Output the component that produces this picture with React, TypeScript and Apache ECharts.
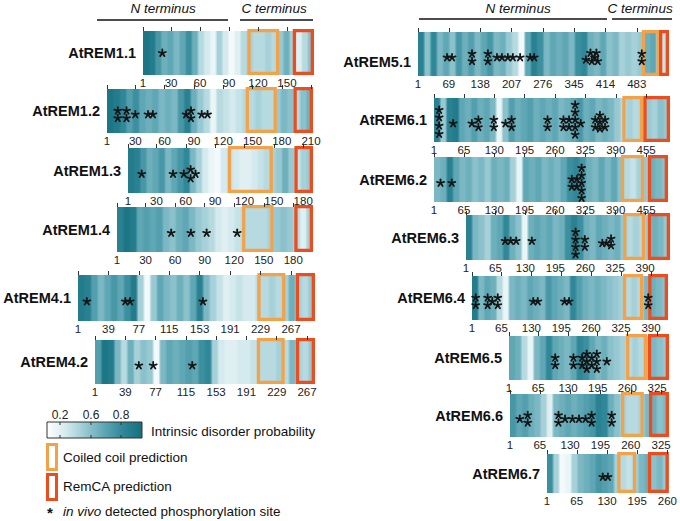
import React, { useEffect, useRef } from 'react';
import * as echarts from 'echarts';

const FONT = '"Liberation Sans", Arial, Helvetica, sans-serif';
const ORANGE = '#f4a24a';
const RED = '#ec4d1e';
const DISORDER_COLORS = ['#ffffff', '#d4eaee', '#98c9d2', '#5fa7b5', '#2f8798', '#15707e'];

const PROTEINS = ['AtREM1.1', 'AtREM1.2', 'AtREM1.3', 'AtREM1.4', 'AtREM4.1', 'AtREM4.2',
  'AtREM5.1', 'AtREM6.1', 'AtREM6.2', 'AtREM6.3', 'AtREM6.4', 'AtREM6.5', 'AtREM6.6', 'AtREM6.7'];
const LENGTHS = [178, 212, 190, 200, 297, 277, 554, 506, 502, 444, 427, 351, 342, 263];

const TICKS_REM1_SHORT = [1, 30, 60, 90, 120, 150];
const TICKS_REM1_2 = [1, 30, 60, 90, 120, 150, 180, 210];
const TICKS_REM1_LONG = [1, 30, 60, 90, 120, 150, 180];
const TICKS_REM4 = [1, 39, 77, 115, 153, 191, 229, 267];
const TICKS_REM5 = [1, 69, 138, 207, 276, 345, 414, 483];
const TICKS_REM6_455 = [1, 65, 130, 195, 260, 325, 390, 455];
const TICKS_REM6_390 = [1, 65, 130, 195, 260, 325, 390];
const TICKS_REM6_325 = [1, 65, 130, 195, 260, 325];
const TICKS_REM6_260 = [1, 65, 130, 195, 260];
const TICKS = [TICKS_REM1_SHORT, TICKS_REM1_2, TICKS_REM1_LONG, TICKS_REM1_LONG, TICKS_REM4, TICKS_REM4,
  TICKS_REM5, TICKS_REM6_455, TICKS_REM6_455, TICKS_REM6_390, TICKS_REM6_390, TICKS_REM6_325, TICKS_REM6_325, TICKS_REM6_260];

// intrinsic disorder probability, equal-length segments along each sequence
const D_REM1_1 = [0.95, 0.9, 0.7, 0.55, 0.6, 0.5, 0.6, 0.75, 0.55, 0.3, 0.2, 0.1, 0.35, 0.2, 0.05, 0.15, 0.3, 0.35, 0.3, 0.3, 0.35, 0.3, 0.4, 0.55, 0.35, 0.15, 0.3, 0.45];
const D_REM1_2 = [0.95, 0.9, 0.8, 0.65, 0.75, 0.6, 0.55, 0.6, 0.5, 0.55, 0.5, 0.7, 0.85, 0.55, 0.4, 0.3, 0.1, 0.3, 0.25, 0.2, 0.25, 0.3, 0.3, 0.35, 0.3, 0.3, 0.4, 0.5, 0.45, 0.3, 0.45, 0.55];
const D_REM1_3 = [0.9, 0.85, 0.7, 0.55, 0.6, 0.7, 0.5, 0.6, 0.7, 0.8, 0.5, 0.35, 0.2, 0.1, 0.05, 0.2, 0.25, 0.2, 0.15, 0.15, 0.2, 0.25, 0.3, 0.35, 0.4, 0.55, 0.4, 0.25, 0.35, 0.4];
const D_REM1_4 = [0.85, 0.95, 0.9, 0.6, 0.65, 0.6, 0.65, 0.5, 0.45, 0.55, 0.6, 0.5, 0.4, 0.35, 0.3, 0.2, 0.15, 0.2, 0.25, 0.3, 0.3, 0.3, 0.3, 0.35, 0.4, 0.45, 0.4, 0.3, 0.15, 0.35];
const D_REM4_1 = [0.9, 0.85, 0.65, 0.5, 0.6, 0.7, 0.6, 0.75, 0.9, 0.35, 0.05, 0.4, 0.6, 0.5, 0.45, 0.55, 0.45, 0.6, 0.85, 0.5, 0.35, 0.25, 0.15, 0.2, 0.25, 0.2, 0.2, 0.3, 0.3, 0.35, 0.3, 0.35, 0.55, 0.35, 0.3, 0.4];
const D_REM4_2 = [0.65, 0.95, 0.9, 0.5, 0.3, 0.55, 0.35, 0.45, 0.4, 0.05, 0.5, 0.6, 0.55, 0.6, 0.65, 0.6, 0.75, 0.8, 0.35, 0.2, 0.15, 0.15, 0.2, 0.2, 0.25, 0.3, 0.3, 0.3, 0.35, 0.3, 0.5, 0.35, 0.3, 0.4];
const D_REM5_1 = [0.85, 0.45, 0.8, 0.5, 0.6, 0.45, 0.7, 0.55, 0.65, 0.5, 0.6, 0.7, 0.5, 0.55, 0.4, 0.3, 0.05, 0.6, 0.85, 0.75, 0.5, 0.6, 0.55, 0.6, 0.5, 0.75, 0.8, 0.55, 0.5, 0.6, 0.45, 0.5, 0.35, 0.4, 0.35, 0.4, 0.55, 0.6, 0.2, 0.25];
const D_REM6_1 = [0.85, 0.4, 0.85, 0.9, 0.6, 0.55, 0.65, 0.55, 0.6, 0.5, 0.1, 0.45, 0.65, 0.55, 0.6, 0.65, 0.55, 0.6, 0.55, 0.6, 0.5, 0.55, 0.6, 0.7, 0.55, 0.6, 0.5, 0.55, 0.5, 0.4, 0.3, 0.35, 0.3, 0.35, 0.4, 0.35, 0.45, 0.4];
const D_REM6_2 = [0.5, 0.55, 0.85, 0.6, 0.5, 0.55, 0.45, 0.5, 0.4, 0.55, 0.5, 0.55, 0.35, 0.1, 0.6, 0.55, 0.6, 0.5, 0.55, 0.5, 0.6, 0.75, 0.8, 0.7, 0.55, 0.5, 0.6, 0.5, 0.6, 0.45, 0.3, 0.25, 0.35, 0.4, 0.55, 0.5, 0.45];
const D_REM6_3 = [0.85, 0.5, 0.45, 0.35, 0.55, 0.6, 0.8, 0.55, 0.45, 0.1, 0.55, 0.6, 0.55, 0.6, 0.5, 0.55, 0.75, 0.85, 0.75, 0.55, 0.5, 0.6, 0.55, 0.5, 0.55, 0.4, 0.3, 0.35, 0.3, 0.4, 0.55, 0.5, 0.4];
const D_REM6_4 = [0.9, 0.5, 0.6, 0.55, 0.3, 0.1, 0.5, 0.55, 0.5, 0.6, 0.55, 0.5, 0.7, 0.6, 0.55, 0.5, 0.8, 0.65, 0.55, 0.5, 0.55, 0.5, 0.45, 0.4, 0.35, 0.3, 0.35, 0.3, 0.5, 0.55, 0.5, 0.45];
const D_REM6_5 = [0.6, 0.55, 0.3, 0.1, 0.5, 0.6, 0.8, 0.6, 0.55, 0.5, 0.6, 0.8, 0.75, 0.6, 0.5, 0.55, 0.45, 0.4, 0.35, 0.3, 0.35, 0.3, 0.4, 0.5, 0.45, 0.4];
const D_REM6_6 = [0.7, 0.6, 0.65, 0.55, 0.5, 0.35, 0.15, 0.5, 0.55, 0.6, 0.55, 0.6, 0.65, 0.7, 0.85, 0.8, 0.55, 0.45, 0.35, 0.3, 0.3, 0.35, 0.5, 0.55, 0.45, 0.5];
const D_REM6_7 = [0.75, 0.35, 0.05, 0.1, 0.35, 0.5, 0.55, 0.6, 0.7, 0.65, 0.6, 0.35, 0.3, 0.25, 0.35, 0.5, 0.55, 0.45, 0.5, 0.4];
const DISORDER = [D_REM1_1, D_REM1_2, D_REM1_3, D_REM1_4, D_REM4_1, D_REM4_2, D_REM5_1,
  D_REM6_1, D_REM6_2, D_REM6_3, D_REM6_4, D_REM6_5, D_REM6_6, D_REM6_7];

// [start, end] residues
const COILED_COIL = [[109, 142], [143, 175], [103, 149], [128, 160], [225, 260], [204, 239], [494, 534],
  [404, 449], [401, 451], [342, 390], [329, 373], [257, 303], [239, 288], [152, 193]];
const REMCA = [[156, 178], [192, 212], [171, 190], [181, 200], [273, 297], [253, 277], [532, 554],
  [449, 506], [459, 502], [396, 444], [384, 427], [305, 351], [299, 342], [218, 263]];

// phosphorylation sites: [residue, stack row]
const S_REM1_1 = [[21, -0.45]];
const S_REM1_2 = [[12, -0.5], [12, 0.5], [21, -0.5], [21, 0.5], [30, 0], [43, 0], [48, 0], [82, 0], [87, -0.5], [87, 0.5], [98, 0], [104, 0]];
const S_REM1_3 = [[15, 0], [47, 0], [58, 0], [65, -0.6], [70, 0], [65, 0.6]];
const S_REM1_4 = [[56, 0], [76, 0], [92, 0], [123, 0]];
const S_REM4_1 = [[12, 0], [60, 0], [66, 0], [157, 0]];
const S_REM4_2 = [[56, 0], [74, 0], [123, 0]];
const S_REM5_1 = [[65, 0], [76, 0], [120, -0.5], [120, 0.5], [155, -0.5], [155, 0.5], [175, 0], [186, 0], [199, 0], [210, 0], [226, 0], [248, 0], [257, 0],
  [371, 0.3], [381, -0.6], [384, 0.5], [394, -0.6], [397, 0.5], [390, 0], [494, -0.5], [494, 0.5]];
const S_REM6_1 = [[12, -1.8], [12, -0.8], [12, 0.3], [12, 1.4], [42, 0], [82, 0], [96, -0.5], [96, 0.5], [129, -0.5], [129, 0.5], [154, 0], [167, -0.5], [167, 0.5],
  [244, -0.5], [244, 0.5], [278, -0.5], [278, 0.5], [290, -0.5], [290, 0.5], [303, -2.5], [303, -1.5], [303, -0.5], [303, 0.5], [303, 1.5], [315, 0],
  [346, -0.5], [346, 0.5], [356, -1.1], [356, -0.2], [356, 0.7], [367, -0.5], [367, 0.5]];
const S_REM6_2 = [[15, 0], [39, 0], [296, -0.5], [296, 0.5], [307, -0.5], [307, 0.5], [317, -2], [317, -1], [317, 0], [317, 1], [317, 2]];
const S_REM6_3 = [[86, 0], [98, 0], [110, 0], [144, 0], [239, -1.2], [239, -0.2], [239, 0.8], [239, 1.8], [259, -0.2], [259, 0.8], [297, 0.3], [306, 0.3], [316, -0.3], [316, 0.6]];
const S_REM6_4 = [[9, -0.5], [9, 0.5], [35, -0.5], [35, 0.5], [45, 0], [57, -0.5], [57, 0.5], [134, 0], [144, 0], [202, 0], [212, 0], [384, -0.5], [384, 0.5]];
const S_REM6_5 = [[102, -0.5], [102, 0.5], [142, -0.5], [142, 0.5], [161, -0.5], [161, 0.5], [171, -1], [171, 0], [171, 1], [182, -0.5], [182, 0.5], [193, -1], [193, 0], [193, 1], [215, 0]];
const S_REM6_6 = [[22, 0], [39, -0.5], [39, 0.5], [105, -0.5], [105, 0.5], [119, 0], [135, 0], [149, 0], [163, 0], [176, -0.5], [176, 0.5], [219, -0.5], [219, 0.5]];
const S_REM6_7 = [[121, 0], [132, 0]];
const SITES = [S_REM1_1, S_REM1_2, S_REM1_3, S_REM1_4, S_REM4_1, S_REM4_2, S_REM5_1,
  S_REM6_1, S_REM6_2, S_REM6_3, S_REM6_4, S_REM6_5, S_REM6_6, S_REM6_7];

const COLORBAR_TICKS = ['0.2', '0.6', '0.8'];

// layout of each strip (px)
const LAYOUT = [
  { left: 143, top: 31, width: 171, height: 44 },
  { left: 107, top: 89, width: 206, height: 44 },
  { left: 128, top: 148, width: 185, height: 45 },
  { left: 117, top: 207, width: 196, height: 45 },
  { left: 78, top: 275, width: 237, height: 46 },
  { left: 95, top: 340, width: 220, height: 44 },
  { left: 418, top: 32, width: 251, height: 44, labelY: 62 },
  { left: 434, top: 98, width: 236, height: 44 },
  { left: 434, top: 157, width: 234, height: 45 },
  { left: 466, top: 215, width: 204, height: 45 },
  { left: 472, top: 276, width: 196, height: 44 },
  { left: 509, top: 336, width: 160, height: 44 },
  { left: 510, top: 394, width: 159, height: 43 },
  { left: 547, top: 454, width: 123, height: 39 },
];
const COLORBAR_TICK_X = [60, 91, 121];
const STAR_R = 3.7;

function colorOf(v: number) {
  return echarts.color.lerp(Math.max(0, Math.min(1, v)), DISORDER_COLORS) as string;
}

export default function App() {
  const ref = useRef<HTMLDivElement>(null);
  useEffect(() => {
    const chart = echarts.init(ref.current as HTMLDivElement, null, { renderer: 'svg' });
    const grid: any[] = [];
    const xAxis: any[] = [];
    const yAxis: any[] = [];
    const series: any[] = [];
    const graphic: any[] = [];

    PROTEINS.forEach((name, i) => {
      const lay = LAYOUT[i];
      const L = LENGTHS[i];
      const vals = DISORDER[i];
      const H = lay.height;
      grid.push({ left: lay.left, top: lay.top, width: lay.width, height: H });
      xAxis.push({
        type: 'value', gridIndex: i, min: 1, max: L, z: 10,
        axisLine: { show: false }, splitLine: { show: false },
        axisTick: { show: true, inside: true, length: 4, customValues: TICKS[i], lineStyle: { color: '#333', width: 1 } },
        axisLabel: { customValues: TICKS[i], fontSize: 11.5, color: '#222', margin: 2, fontFamily: FONT },
      });
      yAxis.push({ type: 'value', gridIndex: i, min: 0, max: H, inverse: true, show: false });

      series.push({
        type: 'custom', xAxisIndex: i, yAxisIndex: i, z: 1,
        data: [[1, L, 0]], encode: { x: [0, 1], y: 2 },
        renderItem: (_p: any, api: any) => {
          const p0 = api.coord([api.value(0), 0]);
          const p1 = api.coord([api.value(1), H]);
          const n = vals.length;
          const stops: any[] = [];
          vals.forEach((v, k) => {
            const c = colorOf(v);
            stops.push({ offset: (k + 0.2) / n, color: c }, { offset: (k + 0.8) / n, color: c });
          });
          return {
            type: 'rect',
            shape: { x: p0[0], y: p0[1], width: p1[0] - p0[0], height: p1[1] - p0[1] },
            style: { fill: new echarts.graphic.LinearGradient(0, 0, 1, 0, stops) },
          };
        },
      });

      series.push({
        type: 'custom', xAxisIndex: i, yAxisIndex: i, z: 3,
        data: [[COILED_COIL[i][0], COILED_COIL[i][1], 0], [REMCA[i][0], REMCA[i][1], 1]],
        encode: { x: [0, 1], y: 2 },
        renderItem: (_p: any, api: any) => {
          const p0 = api.coord([api.value(0), 0]);
          const p1 = api.coord([api.value(1), H]);
          const lw = 3.3;
          return {
            type: 'rect',
            shape: { x: p0[0] + lw / 2, y: p0[1] - 2 + lw / 2, width: p1[0] - p0[0] - lw, height: p1[1] - p0[1] + 2 - lw },
            style: { fill: 'none', stroke: api.value(2) ? RED : ORANGE, lineWidth: lw },
          };
        },
      });

      // phosphorylation-site asterisk markers (5-armed)
      series.push({
        type: 'custom', xAxisIndex: i, yAxisIndex: i, z: 4,
        data: SITES[i], encode: { x: 0, y: 1 },
        renderItem: (_p: any, api: any) => {
          const p = api.coord([api.value(0), H / 2]);
          const cx = p[0];
          const cy = p[1] + 3.5 + api.value(1) * 7.5;
          const children = [0, 1, 2, 3, 4].map((k) => {
            const a = (-90 + k * 72) * Math.PI / 180;
            return {
              type: 'line',
              shape: { x1: cx, y1: cy, x2: cx + STAR_R * Math.cos(a), y2: cy + STAR_R * Math.sin(a) },
              style: { stroke: '#151515', lineWidth: 1.8, lineCap: 'round' },
            };
          });
          return { type: 'group', children };
        },
      });

      graphic.push({
        type: 'text', x: lay.left - 7, y: lay.labelY !== undefined ? lay.labelY : lay.top + H / 2,
        style: { text: name, fontSize: 14.5, fontWeight: 'bold', fontFamily: FONT, fill: '#111', align: 'right', verticalAlign: 'middle' },
      });
    });

    const termText = (text: string, x: number) => ({
      type: 'text', x, y: 8,
      style: { text, fontSize: 13.5, fontStyle: 'italic', fontFamily: FONT, fill: '#111', align: 'center', verticalAlign: 'middle' },
    });
    const hLine = (x1: number, x2: number, y: number) => ({
      type: 'line', shape: { x1, y1: y, x2, y2: y }, style: { stroke: '#111', lineWidth: 1.5 },
    });
    graphic.push(termText('N terminus', 163), termText('C terminus', 274), hLine(97, 228, 20), hLine(240, 313, 20));
    graphic.push(termText('N terminus', 518), termText('C terminus', 640), hLine(419, 607, 19), hLine(612, 672, 19));

    // legend
    graphic.push({
      type: 'rect', shape: { x: 47, y: 422, width: 95, height: 16 },
      style: {
        fill: new echarts.graphic.LinearGradient(0, 0, 1, 0, DISORDER_COLORS.map((c, k) => ({ offset: k / (DISORDER_COLORS.length - 1), color: c }))),
        stroke: '#333', lineWidth: 1,
      },
    });
    COLORBAR_TICKS.forEach((t, k) => {
      const x = COLORBAR_TICK_X[k];
      graphic.push({ type: 'line', shape: { x1: x, y1: 422, x2: x, y2: 425 }, style: { stroke: '#333', lineWidth: 1 } });
      graphic.push({ type: 'line', shape: { x1: x, y1: 435, x2: x, y2: 438 }, style: { stroke: '#333', lineWidth: 1 } });
      graphic.push({ type: 'text', x, y: 415, style: { text: t, fontSize: 12, fontFamily: FONT, fill: '#222', align: 'center', verticalAlign: 'middle' } });
    });
    const legText = (text: string, x: number, y: number) => ({
      type: 'text', x, y, style: { text, fontSize: 13.5, fontFamily: FONT, fill: '#111', align: 'left', verticalAlign: 'middle' },
    });
    graphic.push(legText('Intrinsic disorder probability', 151, 431));
    graphic.push({ type: 'rect', shape: { x: 47.5, y: 444.5, width: 9, height: 25 }, style: { fill: 'none', stroke: ORANGE, lineWidth: 3 } });
    graphic.push(legText('Coiled coil prediction', 63, 457));
    graphic.push({ type: 'rect', shape: { x: 47.5, y: 474.5, width: 9, height: 25 }, style: { fill: 'none', stroke: RED, lineWidth: 3 } });
    graphic.push(legText('RemCA prediction', 63, 486));
    graphic.push({ type: 'text', x: 50, y: 512.5, style: { text: '*', fontSize: 15, fontWeight: 'bold', fontFamily: FONT, fill: '#111', align: 'center', verticalAlign: 'middle' } });
    graphic.push({
      type: 'text', x: 63, y: 511,
      style: {
        text: '{i|in vivo} detected phosphorylation site', fontSize: 13.5, fontFamily: FONT, fill: '#111', align: 'left', verticalAlign: 'middle',
        rich: { i: { fontStyle: 'italic', fontSize: 13.5, fontFamily: FONT, fill: '#111' } },
      },
    });

    chart.setOption({ animation: false, grid, xAxis, yAxis, series, graphic });
    return () => chart.dispose();
  }, []);
  return <div ref={ref} style={{ position: 'fixed', left: 0, top: 0, width: 680, height: 521, background: '#fff' }} />;
}
